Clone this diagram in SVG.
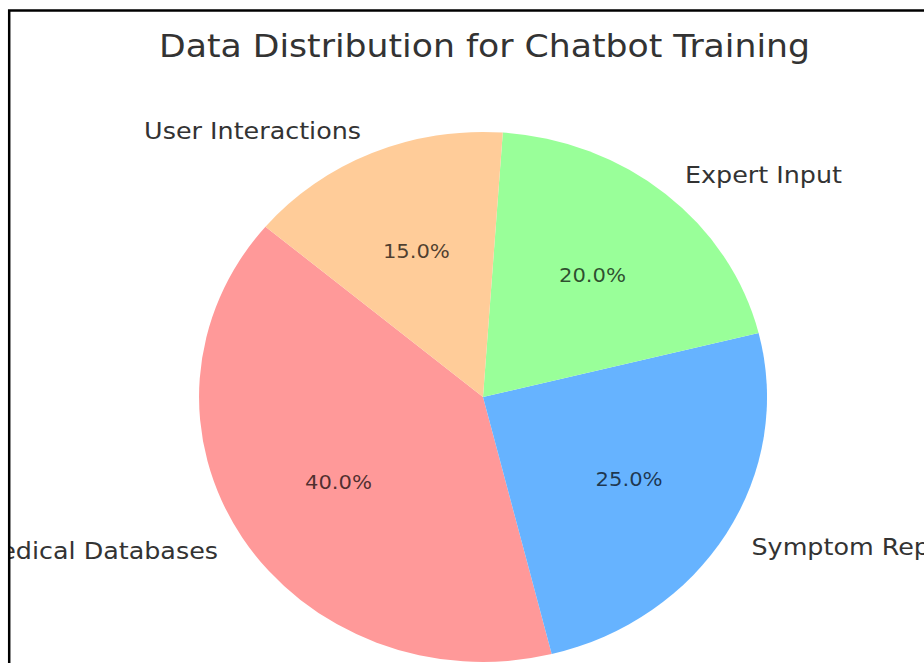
<svg xmlns="http://www.w3.org/2000/svg" width="924" height="663" viewBox="0 0 924 663">
  <style>
    text { font-family: "DejaVu Sans", "Liberation Sans", sans-serif; }
    .title { font-size: 31.8px; fill: #333333; }
    .lbl { font-size: 23.7px; fill: #333333; }
    .pct { font-size: 19.7px; fill: #000000; fill-opacity: 0.7; text-anchor: middle; }
  </style>
  <defs>
    <clipPath id="frame"><rect x="10" y="12" width="914" height="651"/></clipPath>
  </defs>
  <rect x="0" y="0" width="924" height="663" fill="#ffffff"/>
  <g clip-path="url(#frame)">
    <text class="title" text-anchor="middle" transform="translate(484.5,57) scale(1.09,1)">Data Distribution for Chatbot Training</text>

    <g id="medical-databases">
      <path d="M483,397 L265.45,226.66 A284,265 0 0 0 551.7,654.1 Z" fill="#ff9999"/>
      <text class="pct" transform="translate(338.5,488.5) scale(1.072,1)">40.0%</text>
      <text class="lbl" text-anchor="end" transform="translate(218,559) scale(1.072,1)">Medical Databases</text>
    </g>
    <g id="symptom-reports">
      <path d="M483,397 L551.7,654.1 A284,265 0 0 0 758.6,332.9 Z" fill="#66b3ff"/>
      <text class="pct" transform="translate(629.1,486.1) scale(1.072,1)">25.0%</text>
      <text class="lbl" text-anchor="start" transform="translate(751.5,555) scale(1.072,1)">Symptom Reports</text>
    </g>
    <g id="expert-input">
      <path d="M483,397 L758.6,332.9 A284,265 0 0 0 502.8,132.6 Z" fill="#99ff99"/>
      <text class="pct" transform="translate(592.5,282.4) scale(1.072,1)">20.0%</text>
      <text class="lbl" text-anchor="start" transform="translate(685,183) scale(1.072,1)">Expert Input</text>
    </g>
    <g id="user-interactions">
      <path d="M483,397 L502.8,132.6 A284,265 0 0 0 265.45,226.66 Z" fill="#ffcc99"/>
      <text class="pct" transform="translate(416.4,257.8) scale(1.072,1)">15.0%</text>
      <text class="lbl" text-anchor="end" transform="translate(361,139) scale(1.072,1)">User Interactions</text>
    </g>
    <g id="connectors"></g>
  </g>
  <path d="M9.2,663 V10.5 H924" fill="none" stroke="#000000" stroke-width="2.5"/>
</svg>
